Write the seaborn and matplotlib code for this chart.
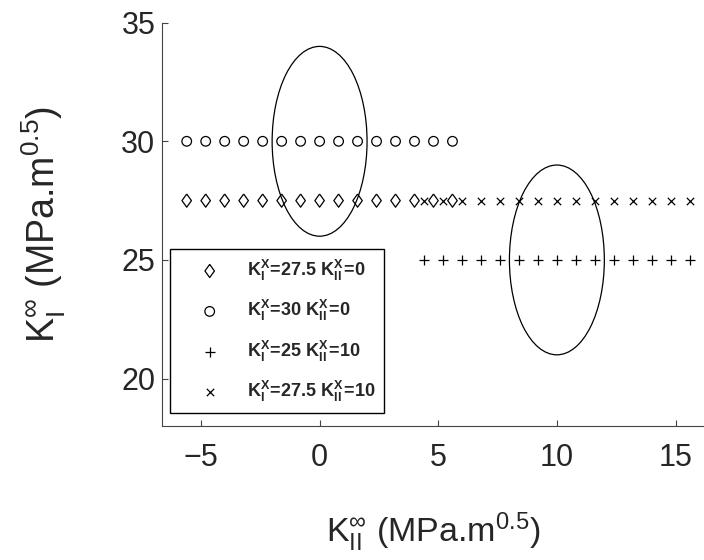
import numpy as np
import pandas as pd
import seaborn as sns
import matplotlib
matplotlib.use('Agg')
import matplotlib.pyplot as plt
from matplotlib.patches import Ellipse

# data
x_left = [-5.6, -4.8, -4.0, -3.2, -2.4, -1.6, -0.8, 0.0, 0.8, 1.6, 2.4, 3.2, 4.0, 4.8, 5.6]
x_right = [4.4, 5.2, 6.0, 6.8, 7.6, 8.4, 9.2, 10.0, 10.8, 11.6, 12.4, 13.2, 14.0, 14.8, 15.6]
y_diamond = 27.5
y_circle = 30.0
y_plus = 25.0
y_cross = 27.5
labels = [r'$\mathbf{K_{I}^{X}\!=\!27.5\ K_{II}^{X}\!=\!0}$',
          r'$\mathbf{K_{I}^{X}\!=\!30\ K_{II}^{X}\!=\!0}$',
          r'$\mathbf{K_{I}^{X}\!=\!25\ K_{II}^{X}\!=\!10}$',
          r'$\mathbf{K_{I}^{X}\!=\!27.5\ K_{II}^{X}\!=\!10}$']
ell_centers = [(0.0, 30.0), (10.0, 25.0)]
ell_width = [4.0, 4.0]
ell_height = [8.0, 8.0]

sns.set_style('ticks')
plt.rcParams['font.family'] = ['Liberation Sans', 'DejaVu Sans']
plt.rcParams['mathtext.fontset'] = 'custom'
plt.rcParams['mathtext.rm'] = 'Liberation Sans'
plt.rcParams['mathtext.it'] = 'Liberation Sans:italic'
plt.rcParams['mathtext.bf'] = 'Liberation Sans:bold'

fig = plt.figure(figsize=(7.04, 5.6), dpi=100)
ax = fig.add_axes([0.2305, 0.2393, 0.7695, 0.7202])

# tall diamond like MATLAB's 'd'
diamond = [(0, 1), (0.72, 0), (0, -1), (-0.72, 0), (0, 1)]

series = [
    (x_left, y_diamond, 'd', labels[0]),
    (x_left, y_circle, 'o', labels[1]),
    (x_right, y_plus, '+', labels[2]),
    (x_right, y_cross, 'x', labels[3]),
]
for xs, yv, mk, lab in series:
    df = pd.DataFrame({'x': xs, 'y': [yv] * len(xs)})
    if mk == 'd':
        sns.scatterplot(data=df, x='x', y='y', marker=diamond, s=90, facecolors='none',
                        edgecolor='black', linewidth=0.9, ax=ax, label=lab)
    elif mk == 'o':
        sns.scatterplot(data=df, x='x', y='y', marker='o', s=48, facecolors='none',
                        edgecolor='black', linewidth=0.9, ax=ax, label=lab)
    else:
        sz = 45 if mk == '+' else 28
        sns.scatterplot(data=df, x='x', y='y', marker=mk, s=sz, color='black',
                        linewidth=0.9, ax=ax, label=lab)

for c, w, h in zip(ell_centers, ell_width, ell_height):
    ax.add_patch(Ellipse(c, w, h, fill=False, edgecolor='black', linewidth=0.9))

ax.set_xlim(-6.63, 16.2)
ax.set_ylim(18, 35)
ax.set_xticks([-5, 0, 5, 10, 15])
ax.set_yticks([20, 25, 30, 35])
ax.set_xticklabels(['\u22125', '0', '5', '10', '15'])
ax.tick_params(direction='in', length=4, width=0.8, color='#444444', labelsize=22)
ax.tick_params(axis='x', pad=12)
ax.tick_params(axis='y', pad=5)
for s in ['top', 'right']:
    ax.spines[s].set_visible(False)
for s in ['left', 'bottom']:
    ax.spines[s].set_color('#444444')
    ax.spines[s].set_linewidth(0.8)

ax.set_xlabel(r'$\mathrm{K_{II}^{\infty}}$ (MPa.m$^{0.5}$)', fontsize=24.5, labelpad=27)
ax.set_ylabel(r'$\mathrm{K_{I}^{\infty}}$ (MPa.m$^{0.5}$)', fontsize=27, labelpad=38)

leg = ax.legend(loc='lower left', bbox_to_anchor=(0.0142, 0.032), fontsize=13,
                frameon=True, fancybox=False, edgecolor='black', framealpha=1,
                labelspacing=0.85, handletextpad=0.35, borderpad=0.5, handlelength=3.4,
                borderaxespad=0.0)
leg.get_frame().set_linewidth(1.0)

fig.savefig('out.png', dpi=100)
